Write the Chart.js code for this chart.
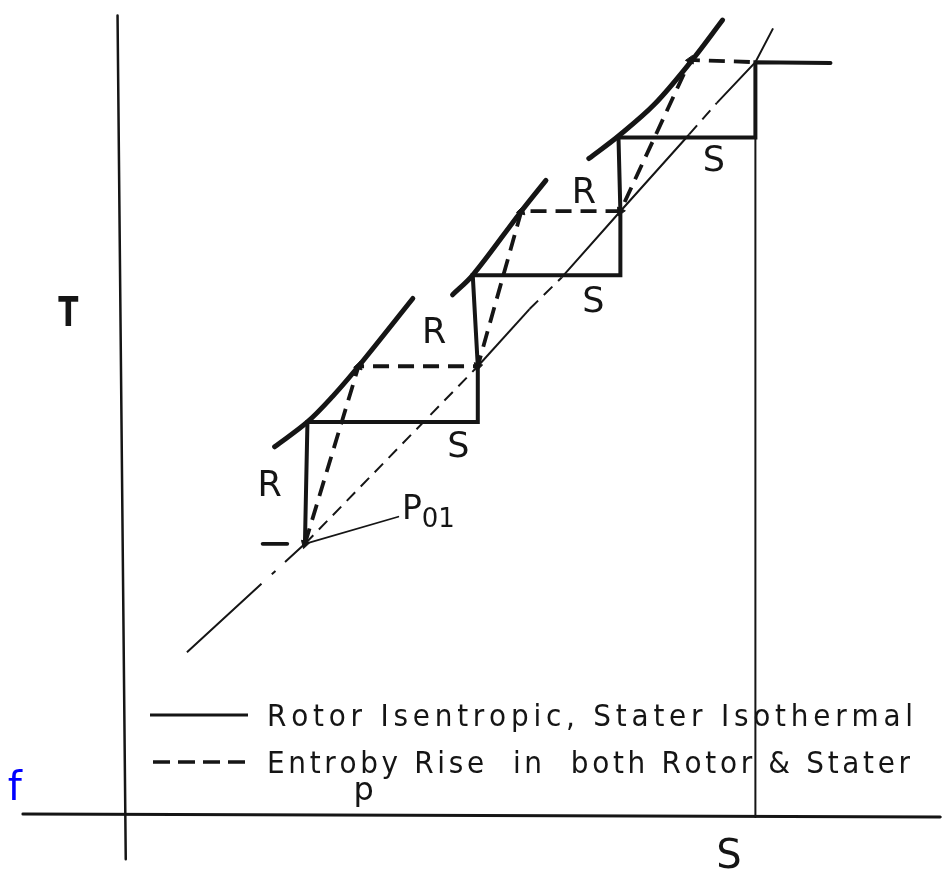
<!DOCTYPE html>
<html>
<head>
<meta charset="utf-8">
<script src="https://cdn.jsdelivr.net/npm/chart.js@4.4.1/dist/chart.umd.min.js"></script>
<style>
  html, body { margin: 0; padding: 0; background: #fff; overflow: hidden; }
  #wrap { width: 946px; height: 876px; position: relative; background: #fff; }
</style>
</head>
<body>
<div id="wrap"><canvas id="chart"></canvas></div>
<script>
// T-s diagram of a multistage machine: entropy s along x, temperature T along y
// (arbitrary diagram units, origin where the two axes cross)

// the two axes (hand drawn, slightly off square)
const tAxisS = [-0.11, 0.02];
const tAxisT = [10.62, -0.59];
const sAxisS = [-1.61, 12.93];
const sAxisT = [0.01, -0.03];

// constant pressure lines, one per stage
const p1S = [2.38, 2.90, 3.30, 3.71, 4.57];
const p1T = [4.89, 5.22, 5.56, 5.96, 6.86];
const p2S = [5.20, 5.52, 6.29, 6.68];
const p2T = [6.91, 7.17, 8.02, 8.43];
const p3S = [7.36, 7.83, 8.40, 9.00, 9.48];
const p3T = [8.72, 9.02, 9.44, 10.03, 10.56];

// rotor isentropic, stator isothermal
const isoS = [2.86, 2.90, 5.60, 5.60, 5.52, 7.86, 7.86, 7.83, 10.0, 10.0, 11.19];
const isoT = [3.60, 5.22, 5.22, 5.96, 7.17, 7.17, 8.02, 9.00, 9.00, 10.0, 9.99];

// entropy rise in both rotor and stator
const riseS = [2.86, 3.71, 5.60, 6.29, 7.86, 8.97, 10.0];
const riseT = [3.60, 5.96, 5.96, 8.02, 8.02, 10.03, 10.0];

// line through the stage exit states, and its tail below P01
const exitS = [2.86, 5.60, 6.42, 6.93, 7.86, 8.95, 9.39, 10.0, 10.28];
const exitT = [3.60, 5.96, 6.72, 7.14, 8.02, 9.04, 9.46, 10.0, 10.45];
const exitDashed = [0, 2, 5];
const tailS = [2.86, 0.99];
const tailT = [3.60, 2.16];

// final entropy line down to the s axis
const rightS = [10.0, 10.0];
const rightT = [9.0, -0.03];

// P01 leader and the short tick left of it
const leadS = [2.86, 4.34];
const leadT = [3.60, 3.96];
const stubS = [2.19, 2.58];
const stubT = [3.60, 3.60];

// R / S stage letters
const stageLabels = ['R', 'S', 'R', 'S', 'R', 'S'];
const stageLabelS = [2.30, 5.29, 4.91, 7.43, 7.28, 9.34];
const stageLabelT = [4.23, 4.76, 6.27, 6.68, 8.13, 8.55];

const legendLines = [
  'Rotor Isentropic, Stater Isothermal',
  'Entroby Rise  in  both Rotor & Stater'
];

const ink = '#151515';
const font = '"DejaVu Sans", sans-serif';

function pts(sv, tv) {
  return sv.map((s, i) => ({ x: s, y: tv[i] }));
}

function line(sv, tv, width, dash, extra) {
  return Object.assign({
    data: pts(sv, tv),
    showLine: true,
    borderColor: ink,
    backgroundColor: ink,
    borderWidth: width,
    borderDash: dash || [],
    borderCapStyle: dash ? 'butt' : 'round',
    borderJoinStyle: 'miter',
    pointRadius: 0,
    pointHoverRadius: 0,
    clip: false
  }, extra || {});
}

function headAngle(chart, from, to) {
  const x = chart.scales.x, y = chart.scales.y;
  const dx = x.getPixelForValue(riseS[to]) - x.getPixelForValue(riseS[from]);
  const dy = y.getPixelForValue(riseT[to]) - y.getPixelForValue(riseT[from]);
  return Math.atan2(dx, -dy) * 180 / Math.PI;
}

const curve = { tension: 0.35 };

const datasets = [
  line(tAxisS, tAxisT, 2.5),
  line(sAxisS, sAxisT, 3),
  line(rightS, rightT, 2),
  line(p1S, p1T, 5, null, curve),
  line(p2S, p2T, 5, null, curve),
  line(p3S, p3T, 5, null, curve),
  line(exitS, exitT, 2, null, {
    borderCapStyle: 'butt',
    segment: { borderDash: c => exitDashed.includes(c.p0DataIndex) ? [12, 8] : undefined }
  }),
  line(tailS, tailT, 2, [27, 13, 5, 14, 400]),
  line(leadS, leadT, 1.8),
  line(stubS, stubT, 3.8),
  line(isoS, isoT, 4),
  line(riseS, riseT, 3.8, [16, 9]),
  {
    data: pts(riseS.slice(0, 6), riseT.slice(0, 6)),
    showLine: false,
    pointStyle: 'triangle',
    pointRadius: 5,
    pointHoverRadius: 5,
    backgroundColor: ink,
    borderColor: ink,
    borderWidth: 1,
    clip: false,
    pointRotation: c => {
      const i = c.dataIndex;
      return i % 2 ? headAngle(c.chart, i - 1, i) : headAngle(c.chart, i + 1, i);
    }
  }
];

// draw text with glyphs squeezed by k and spread to run from x0 to x1
function drawSpread(ctx, text, x0, x1, base, k) {
  const chars = [...text];
  const widths = chars.map(ch => ctx.measureText(ch).width * k);
  const total = widths.reduce((a, b) => a + b, 0);
  const gap = chars.length > 1 ? (x1 - x0 - total) / (chars.length - 1) : 0;
  let cx = x0;
  ctx.textAlign = 'left';
  chars.forEach((ch, i) => {
    ctx.save();
    ctx.translate(cx, base);
    ctx.scale(k, 1);
    ctx.fillText(ch, 0, 0);
    ctx.restore();
    cx += widths[i] + gap;
  });
}

const textPlugin = {
  id: 'diagramText',
  afterDatasetsDraw(chart) {
    const { ctx, scales: { x, y } } = chart;
    ctx.save();
    ctx.fillStyle = ink;
    ctx.textBaseline = 'alphabetic';

    ctx.textAlign = 'center';
    ctx.font = `35px ${font}`;
    stageLabels.forEach((t, i) => {
      ctx.fillText(t, x.getPixelForValue(stageLabelS[i]), y.getPixelForValue(stageLabelT[i]));
    });

    // P01
    ctx.textAlign = 'left';
    ctx.font = `33px ${font}`;
    ctx.fillText('P', x.getPixelForValue(4.40), y.getPixelForValue(3.93));
    ctx.font = `26px ${font}`;
    ctx.fillText('01', x.getPixelForValue(4.71), y.getPixelForValue(3.82));

    // axis names
    ctx.font = `bold 41px ${font}`;
    ctx.save();
    ctx.translate(x.getPixelForValue(-0.89), y.getPixelForValue(6.49));
    ctx.scale(0.72, 1);
    ctx.textAlign = 'center';
    ctx.fillText('T', 0, 0);
    ctx.restore();
    ctx.textAlign = 'center';
    ctx.font = `40px ${font}`;
    ctx.fillText('S', x.getPixelForValue(9.58), y.getPixelForValue(-0.71));

    // stray letters of the scan
    ctx.textAlign = 'left';
    ctx.font = `32px ${font}`;
    ctx.fillText('p', x.getPixelForValue(3.63), y.getPixelForValue(0.20));
    ctx.fillStyle = '#0000ff';
    ctx.font = `40px ${font}`;
    ctx.fillText('f', x.getPixelForValue(-1.85), y.getPixelForValue(0.20));

    // legend
    ctx.fillStyle = ink;
    ctx.strokeStyle = ink;
    ctx.lineWidth = 3;
    ctx.beginPath();
    ctx.moveTo(150, 715);
    ctx.lineTo(248, 715);
    ctx.stroke();
    ctx.setLineDash([17, 8]);
    ctx.lineWidth = 3.5;
    ctx.beginPath();
    ctx.moveTo(153, 762);
    ctx.lineTo(248, 762);
    ctx.stroke();
    ctx.setLineDash([]);

    ctx.font = `31px ${font}`;
    drawSpread(ctx, legendLines[0], 267, 913, 726, 0.9);
    drawSpread(ctx, legendLines[1], 267, 910, 773, 0.9);
    ctx.restore();
  }
};

new Chart(document.getElementById('chart'), {
  type: 'scatter',
  data: { datasets },
  options: {
    responsive: true,
    maintainAspectRatio: false,
    animation: false,
    events: [],
    layout: { padding: 0 },
    plugins: { legend: { display: false }, tooltip: { enabled: false } },
    scales: {
      x: { type: 'linear', display: false, min: -1.878, max: 12.926 },
      y: { type: 'linear', display: false, min: -0.734, max: 10.747 }
    }
  },
  plugins: [textPlugin]
});
</script>
</body>
</html>
